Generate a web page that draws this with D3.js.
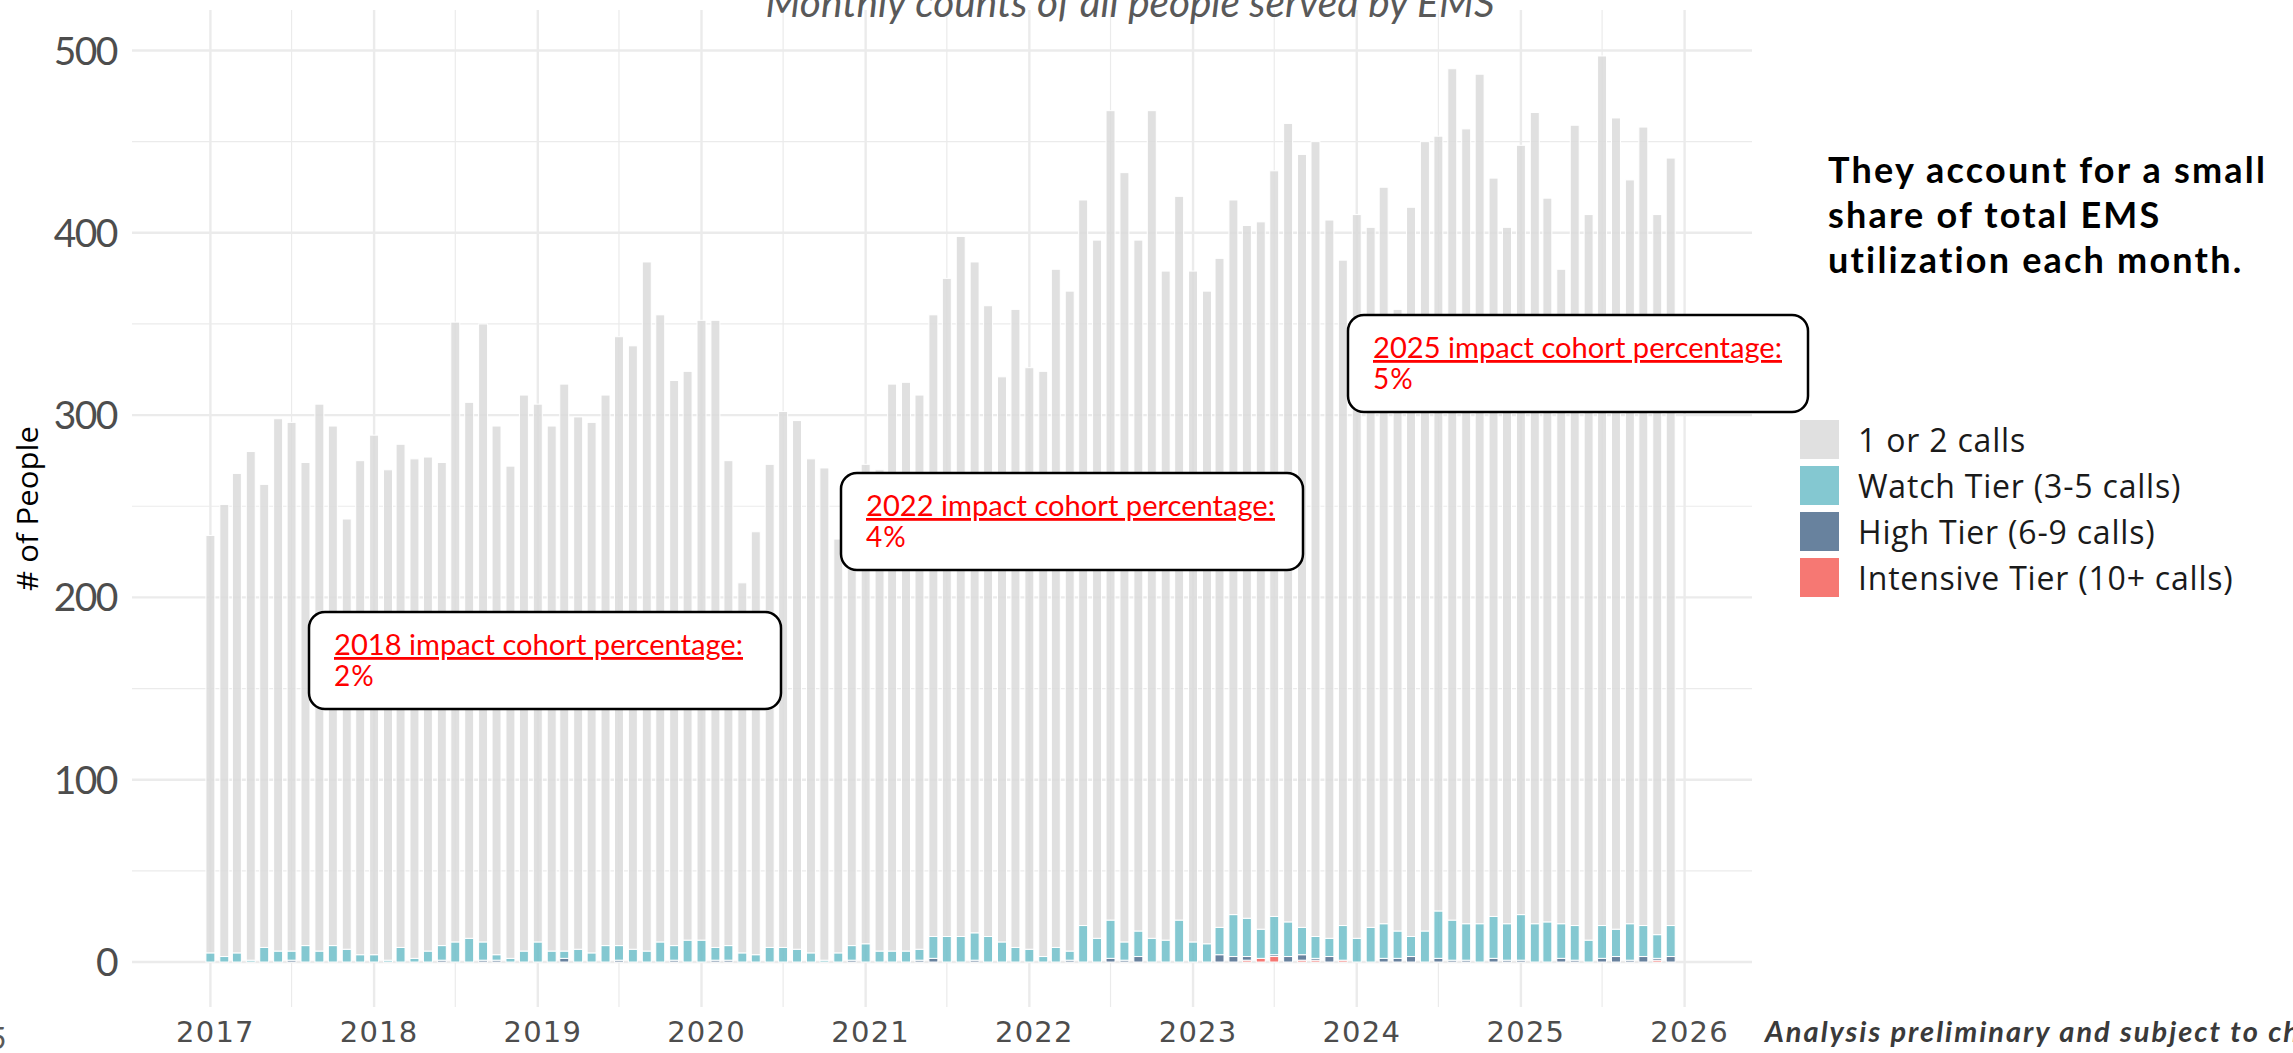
<!DOCTYPE html>
<html>
<head>
<meta charset="utf-8">
<script src="https://cdn.jsdelivr.net/npm/d3@7"></script>
<style>
  body { margin: 0; background: #fff; overflow: hidden; }
  svg { display: block; }
</style>
</head>
<body>
<svg id="chart" width="2293" height="1053"></svg>
<script>
// Years on the axis, bars are one per month from Jan 2017 to Dec 2025
const years = [2017, 2018, 2019, 2020, 2021, 2022, 2023, 2024, 2025];
const tickYears = [2017, 2018, 2019, 2020, 2021, 2022, 2023, 2024, 2025, 2026];
const yTicks = [0, 100, 200, 300, 400, 500];

// Series values, one row per year (Jan..Dec)
const oneOrTwo = [
  229, 248, 263, 279, 254, 292, 290, 265, 300, 285, 236, 271,
  285, 269, 276, 274, 271, 265, 340, 294, 339, 290, 270, 305,
  295, 288, 311, 292, 291, 302, 334, 331, 378, 344, 310, 312,
  340, 344, 266, 203, 232, 265, 294, 290, 271, 270, 227, 241,
  263, 264, 311, 312, 304, 341, 361, 384, 368, 346, 310, 350,
  319, 321, 372, 362, 398, 383, 444, 422, 379, 454, 367, 397,
  368, 358, 367, 392, 380, 388, 409, 438, 424, 436, 394, 365,
  397, 384, 404, 341, 400, 433, 425, 467, 436, 466, 405, 382,
  422, 445, 397, 359, 439, 398, 477, 445, 408, 438, 395, 421
];
const watchTier = [
  5, 3, 5, 1, 8, 6, 5, 9, 6, 9, 7, 4,
  4, 1, 8, 2, 6, 8, 11, 13, 10, 3, 2, 6,
  11, 6, 4, 7, 5, 9, 8, 7, 6, 11, 8, 12,
  12, 7, 8, 5, 4, 8, 8, 7, 5, 1, 5, 8,
  10, 6, 6, 6, 6, 12, 14, 14, 15, 14, 11, 8,
  7, 3, 8, 5, 20, 13, 21, 10, 14, 13, 12, 23,
  11, 10, 15, 23, 21, 16, 21, 19, 15, 12, 10, 19,
  13, 19, 19, 15, 11, 17, 26, 22, 20, 21, 23, 20,
  25, 21, 22, 19, 19, 12, 18, 15, 20, 17, 13, 17
];
const highTier = [
  0, 0, 0, 0, 0, 0, 1, 0, 0, 0, 0, 0,
  0, 0, 0, 0, 0, 1, 0, 0, 1, 1, 0, 0,
  0, 0, 2, 0, 0, 0, 1, 0, 0, 0, 1, 0,
  0, 1, 1, 0, 0, 0, 0, 0, 0, 0, 0, 1,
  0, 0, 0, 0, 1, 2, 0, 0, 1, 0, 0, 0,
  0, 0, 0, 1, 0, 0, 2, 1, 3, 0, 0, 0,
  0, 0, 4, 3, 2, 0, 1, 3, 3, 1, 3, 0,
  0, 0, 2, 2, 3, 0, 2, 1, 1, 0, 2, 1,
  1, 0, 0, 2, 1, 0, 2, 3, 1, 3, 1, 3
];
const intensiveTier = [
  0, 0, 0, 0, 0, 0, 0, 0, 0, 0, 0, 0,
  0, 0, 0, 0, 0, 0, 0, 0, 0, 0, 0, 0,
  0, 0, 0, 0, 0, 0, 0, 0, 0, 0, 0, 0,
  0, 0, 0, 0, 0, 0, 0, 0, 0, 0, 0, 0,
  0, 0, 0, 0, 0, 0, 0, 0, 0, 0, 0, 0,
  0, 0, 0, 0, 0, 0, 0, 0, 0, 0, 0, 0,
  0, 0, 0, 0, 1, 2, 3, 0, 1, 1, 0, 1,
  0, 0, 0, 0, 0, 0, 0, 0, 0, 0, 0, 0,
  0, 0, 0, 0, 0, 0, 0, 0, 0, 0, 1, 0
];

const tierLabels = ["1 or 2 calls", "Watch Tier (3-5 calls)", "High Tier (6-9 calls)", "Intensive Tier (10+ calls)"];
const tierColors = ["#dadada", "#6fbec9", "#4d6c8d", "#f4605a"];

// Boxed notes on the chart
const noteLines = [
  ["2018 impact cohort percentage:", "2%"],
  ["2022 impact cohort percentage:", "4%"],
  ["2025 impact cohort percentage:", "5%"]
];

const sideText = ["They account for a small", "share of total EMS", "utilization each month."];

// Build one row per month for the stack
const rows = [];
years.forEach((yr, yi) => {
  for (let m = 0; m < 12; m++) {
    const i = yi * 12 + m;
    rows.push({
      date: new Date(Date.UTC(yr, m, 1)),
      oneOrTwo: oneOrTwo[i],
      watch: watchTier[i],
      high: highTier[i],
      intensive: intensiveTier[i]
    });
  }
});

const svg = d3.select("#chart");

// Panel area
const panel = {left: 132, right: 1752, top: 10, bottom: 1007};

const x = d3.scaleUtc()
  .domain([new Date(Date.UTC(2017, 0, 1)), new Date(Date.UTC(2026, 0, 1))])
  .range([210.4, 1684.6]);
const y = d3.scaleLinear().domain([0, 500]).range([962, 50.5]);

// Gridlines
const grid = svg.append("g").attr("stroke", "#ebebeb");
d3.range(50, 500, 100).forEach(v => {
  grid.append("line").attr("x1", panel.left).attr("x2", panel.right)
    .attr("y1", y(v)).attr("y2", y(v)).attr("stroke-width", 1.2);
});
yTicks.forEach(v => {
  grid.append("line").attr("x1", panel.left).attr("x2", panel.right)
    .attr("y1", y(v)).attr("y2", y(v)).attr("stroke-width", 2.4);
});
years.forEach(yr => {
  const xm = x(new Date(Date.UTC(yr, 6, 1)));
  grid.append("line").attr("x1", xm).attr("x2", xm)
    .attr("y1", panel.top).attr("y2", panel.bottom).attr("stroke-width", 1.2);
});
tickYears.forEach(yr => {
  const xv = x(new Date(Date.UTC(yr, 0, 1)));
  grid.append("line").attr("x1", xv).attr("x2", xv)
    .attr("y1", panel.top).attr("y2", panel.bottom).attr("stroke-width", 2.4);
});

// Stacked bars, bottom to top
const keys = ["intensive", "high", "watch", "oneOrTwo"];
const keyColor = {oneOrTwo: tierColors[0], watch: tierColors[1], high: tierColors[2], intensive: tierColors[3]};
const series = d3.stack().keys(keys)(rows);

const barW = x(new Date(Date.UTC(2017, 0, 21))) - x(new Date(Date.UTC(2017, 0, 1)));

svg.append("g")
  .selectAll("g")
  .data(series)
  .join("g")
  .attr("fill", d => keyColor[d.key])
  .attr("fill-opacity", 0.85)
  .selectAll("rect")
  .data(d => d.filter(s => s[1] - s[0] > 0))
  .join("rect")
  .attr("x", d => x(d.data.date) - barW / 2)
  .attr("width", barW)
  .attr("y", d => y(d[1]))
  .attr("height", d => y(d[0]) - y(d[1]))
  .attr("stroke", "#fff")
  .attr("stroke-width", 1);

// Axis labels
svg.append("g")
  .selectAll("text")
  .data(yTicks)
  .join("text")
  .attr("x", 117)
  .attr("y", d => y(d) + 14)
  .attr("text-anchor", "end")
  .attr("font-family", "Lato, sans-serif")
  .attr("font-size", 39)
  .attr("letter-spacing", -1.5)
  .attr("fill", "#4d4d4d")
  .text(d => d);

svg.append("g")
  .selectAll("text")
  .data(tickYears)
  .join("text")
  .attr("x", d => x(new Date(Date.UTC(d, 0, 1))) + 5)
  .attr("y", 1042)
  .attr("text-anchor", "middle")
  .attr("font-family", "'DejaVu Sans', sans-serif")
  .attr("font-size", 29)
  .attr("letter-spacing", 1.2)
  .attr("fill", "#4d4d4d")
  .text(d => d);

svg.append("text")
  .attr("transform", `translate(38,${(panel.top + panel.bottom) / 2}) rotate(-90)`)
  .attr("text-anchor", "middle")
  .attr("font-family", "'Open Sans', sans-serif")
  .attr("font-size", 29)
  .attr("textLength", 165)
  .attr("lengthAdjust", "spacingAndGlyphs")
  .attr("fill", "#000")
  .text("# of People");

// Title, mostly cut off at the top of the slide
svg.append("text")
  .attr("x", 1130)
  .attr("y", 17)
  .attr("text-anchor", "middle")
  .attr("font-family", "Lato, sans-serif")
  .attr("font-style", "italic")
  .attr("font-size", 40)
  .attr("textLength", 729)
  .attr("lengthAdjust", "spacingAndGlyphs")
  .attr("fill", "#595959")
  .text("Monthly counts of all people served by EMS");

// Note boxes
const boxes = [
  {x: 309, y: 612, w: 472, h: 97},
  {x: 841, y: 473, w: 462, h: 97},
  {x: 1348, y: 315, w: 460, h: 97}
];
boxes.forEach((b, i) => {
  const g = svg.append("g");
  g.append("rect")
    .attr("x", b.x).attr("y", b.y).attr("width", b.w).attr("height", b.h)
    .attr("rx", 16).attr("ry", 16)
    .attr("fill", "#fff").attr("stroke", "#000").attr("stroke-width", 2.5);
  g.append("text")
    .attr("x", b.x + 25).attr("y", b.y + 43)
    .attr("font-family", "Lato, sans-serif").attr("font-size", 28)
    .attr("fill", "#ff0000")
    .attr("text-decoration", "underline")
    .attr("textLength", 409).attr("lengthAdjust", "spacingAndGlyphs")
    .text(noteLines[i][0]);
  g.append("text")
    .attr("x", b.x + 25).attr("y", b.y + 74)
    .attr("font-family", "Lato, sans-serif").attr("font-size", 28)
    .attr("fill", "#ff0000")
    .attr("letter-spacing", 1)
    .text(noteLines[i][1]);
});

// Side text
svg.append("g")
  .selectAll("text")
  .data(sideText)
  .join("text")
  .attr("x", 1828)
  .attr("y", (d, i) => 183 + i * 45)
  .attr("font-family", "Lato, sans-serif")
  .attr("font-weight", "bold")
  .attr("font-size", 36)
  .attr("letter-spacing", 2.2)
  .attr("fill", "#000")
  .text(d => d);

// Legend
const legend = svg.append("g");
tierLabels.forEach((lab, i) => {
  legend.append("rect")
    .attr("x", 1800).attr("y", 420 + i * 46)
    .attr("width", 39).attr("height", 39)
    .attr("fill", tierColors[i]).attr("fill-opacity", 0.85);
  legend.append("text")
    .attr("x", 1858).attr("y", 452 + i * 46)
    .attr("font-family", "'Open Sans', sans-serif")
    .attr("font-size", 32)
    .attr("letter-spacing", 0.8)
    .attr("fill", "#1a1a1a")
    .text(lab);
});

// Footer bits
svg.append("text")
  .attr("x", 1765).attr("y", 1042)
  .attr("font-family", "Lato, sans-serif")
  .attr("font-weight", "bold").attr("font-style", "italic")
  .attr("font-size", 29)
  .attr("letter-spacing", 2)
  .attr("fill", "#3a3a3a")
  .text("Analysis preliminary and subject to change");

svg.append("text")
  .attr("x", -11).attr("y", 1049)
  .attr("font-family", "Lato, sans-serif")
  .attr("font-size", 30)
  .attr("fill", "#595959")
  .text("5");
</script>
</body>
</html>
